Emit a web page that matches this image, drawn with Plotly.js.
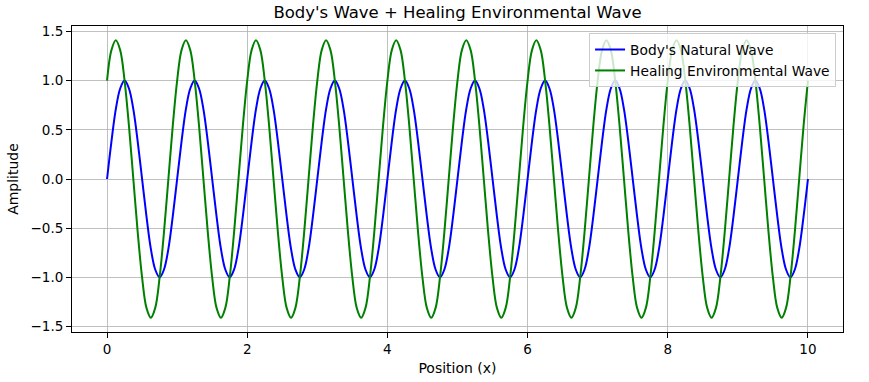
<!DOCTYPE html>
<html><head><meta charset="utf-8">
<script src="https://cdn.plot.ly/plotly-3.0.1.min.js"></script>
<style>html,body{margin:0;padding:0;background:#fff}#chart{width:869px;height:382px}</style>
</head><body><div id="chart"></div>
<script>
var xPos = [
0,0.0625,0.125,0.1875,0.25,0.3125,0.375,0.4375,0.5,0.5625,0.625,0.6875,0.75,0.8125,0.875,0.9375,
1,1.0625,1.125,1.1875,1.25,1.3125,1.375,1.4375,1.5,1.5625,1.625,1.6875,1.75,1.8125,1.875,1.9375,
2,2.0625,2.125,2.1875,2.25,2.3125,2.375,2.4375,2.5,2.5625,2.625,2.6875,2.75,2.8125,2.875,2.9375,
3,3.0625,3.125,3.1875,3.25,3.3125,3.375,3.4375,3.5,3.5625,3.625,3.6875,3.75,3.8125,3.875,3.9375,
4,4.0625,4.125,4.1875,4.25,4.3125,4.375,4.4375,4.5,4.5625,4.625,4.6875,4.75,4.8125,4.875,4.9375,
5,5.0625,5.125,5.1875,5.25,5.3125,5.375,5.4375,5.5,5.5625,5.625,5.6875,5.75,5.8125,5.875,5.9375,
6,6.0625,6.125,6.1875,6.25,6.3125,6.375,6.4375,6.5,6.5625,6.625,6.6875,6.75,6.8125,6.875,6.9375,
7,7.0625,7.125,7.1875,7.25,7.3125,7.375,7.4375,7.5,7.5625,7.625,7.6875,7.75,7.8125,7.875,7.9375,
8,8.0625,8.125,8.1875,8.25,8.3125,8.375,8.4375,8.5,8.5625,8.625,8.6875,8.75,8.8125,8.875,8.9375,
9,9.0625,9.125,9.1875,9.25,9.3125,9.375,9.4375,9.5,9.5625,9.625,9.6875,9.75,9.8125,9.875,9.9375,
10];
var bodyWave = [
0,0.38,0.71,0.92,1,0.92,0.71,0.38,0,-0.38,-0.71,-0.92,-1,-0.92,-0.71,-0.38,
0,0.38,0.71,0.92,1,0.92,0.71,0.38,0,-0.38,-0.71,-0.92,-1,-0.92,-0.71,-0.38,
0,0.38,0.71,0.92,1,0.92,0.71,0.38,0,-0.38,-0.71,-0.92,-1,-0.92,-0.71,-0.38,
0,0.38,0.71,0.92,1,0.92,0.71,0.38,0,-0.38,-0.71,-0.92,-1,-0.92,-0.71,-0.38,
0,0.38,0.71,0.92,1,0.92,0.71,0.38,0,-0.38,-0.71,-0.92,-1,-0.92,-0.71,-0.38,
0,0.38,0.71,0.92,1,0.92,0.71,0.38,0,-0.38,-0.71,-0.92,-1,-0.92,-0.71,-0.38,
0,0.38,0.71,0.92,1,0.92,0.71,0.38,0,-0.38,-0.71,-0.92,-1,-0.92,-0.71,-0.38,
0,0.38,0.71,0.92,1,0.92,0.71,0.38,0,-0.38,-0.71,-0.92,-1,-0.92,-0.71,-0.38,
0,0.38,0.71,0.92,1,0.92,0.71,0.38,0,-0.38,-0.71,-0.92,-1,-0.92,-0.71,-0.38,
0,0.38,0.71,0.92,1,0.92,0.71,0.38,0,-0.38,-0.71,-0.92,-1,-0.92,-0.71,-0.38,
0];
var healingWave = [
1,1.31,1.41,1.31,1,0.54,0,-0.54,-1,-1.31,-1.41,-1.31,-1,-0.54,0,0.54,
1,1.31,1.41,1.31,1,0.54,0,-0.54,-1,-1.31,-1.41,-1.31,-1,-0.54,0,0.54,
1,1.31,1.41,1.31,1,0.54,0,-0.54,-1,-1.31,-1.41,-1.31,-1,-0.54,0,0.54,
1,1.31,1.41,1.31,1,0.54,0,-0.54,-1,-1.31,-1.41,-1.31,-1,-0.54,0,0.54,
1,1.31,1.41,1.31,1,0.54,0,-0.54,-1,-1.31,-1.41,-1.31,-1,-0.54,0,0.54,
1,1.31,1.41,1.31,1,0.54,0,-0.54,-1,-1.31,-1.41,-1.31,-1,-0.54,0,0.54,
1,1.31,1.41,1.31,1,0.54,0,-0.54,-1,-1.31,-1.41,-1.31,-1,-0.54,0,0.54,
1,1.31,1.41,1.31,1,0.54,0,-0.54,-1,-1.31,-1.41,-1.31,-1,-0.54,0,0.54,
1,1.31,1.41,1.31,1,0.54,0,-0.54,-1,-1.31,-1.41,-1.31,-1,-0.54,0,0.54,
1,1.31,1.41,1.31,1,0.54,0,-0.54,-1,-1.31,-1.41,-1.31,-1,-0.54,0,0.54,
1];
var seriesNames = ["Body's Natural Wave", "Healing Environmental Wave"];
var xTicks = [0,2,4,6,8,10];
var yTicks = [-1.5,-1.0,-0.5,0.0,0.5,1.0,1.5];

var font = 'DejaVu Sans, sans-serif';
var traces = [
  {x:xPos, y:bodyWave, name:seriesNames[0], mode:'lines', line:{color:'#0000ff', width:2, shape:'spline', smoothing:1}},
  {x:xPos, y:healingWave, name:seriesNames[1], mode:'lines', line:{color:'#008000', width:2, shape:'spline', smoothing:1}}
];
var axisCommon = {
  showline:true, mirror:true, linecolor:'#000', linewidth:1,
  ticks:'outside', ticklen:5, tickwidth:1, tickcolor:'#000',
  showgrid:true, gridcolor:'#b0b0b0', gridwidth:0.8, zeroline:false,
  tickfont:{family:font, size:13.5, color:'#000'}
};
var layout = {
  width:869, height:382,
  margin:{l:72, r:26, t:26, b:50},
  paper_bgcolor:'#fff', plot_bgcolor:'#fff',
  font:{family:font, color:'#000'},
  title:{text:"Body's Wave + Healing Environmental Wave", font:{family:font, size:16.5, color:'#000'}, x:0.5, xref:'paper', xanchor:'center', y:0.968, yref:'container', yanchor:'middle'},
  xaxis:Object.assign({}, axisCommon, {range:[-0.5,10.5], tickvals:xTicks, ticktext:xTicks.map(String),
    title:{text:'Position (x)', font:{family:font, size:14, color:'#000'}, standoff:6}}),
  yaxis:Object.assign({}, axisCommon, {range:[-1.555,1.555], tickvals:yTicks, ticktext:yTicks.map(function(v){return (v<0?'\u2212':'')+Math.abs(v).toFixed(1);}),
    title:{text:'Amplitude', font:{family:font, size:14, color:'#000'}, standoff:8}}),
  showlegend:true,
  legend:{x:0.991, xanchor:'right', y:0.977, yanchor:'top', bgcolor:'rgba(255,255,255,0.8)', bordercolor:'#cccccc', borderwidth:1,
    font:{family:font, size:13.8, color:'#000'}, tracegroupgap:0, itemwidth:30}
};
Plotly.newPlot('chart', traces, layout, {displayModeBar:false, staticPlot:true});
</script>
</body></html>
